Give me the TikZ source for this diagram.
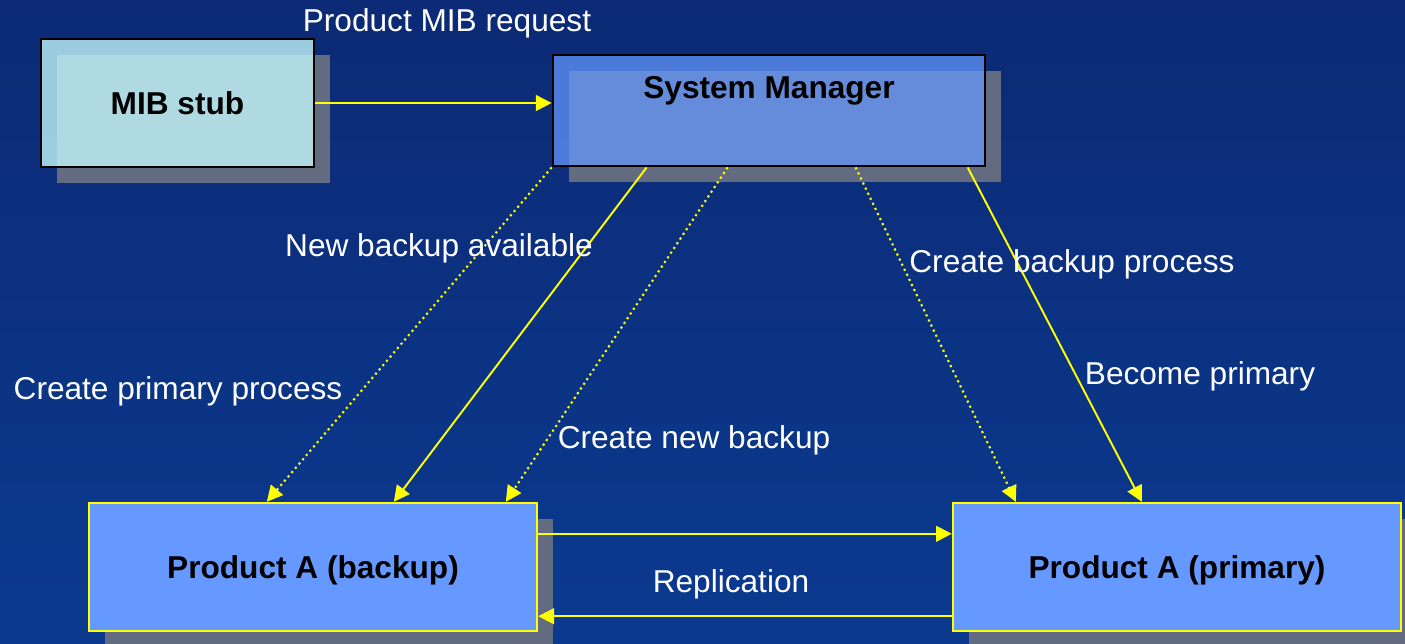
\documentclass[tikz,border=0pt]{standalone}
\usepackage{fontspec}
\setmainfont{Liberation Sans}
\usepackage{xcolor}
\usepackage{tikz}
\usetikzlibrary{arrows.meta,calc,shadows}
\definecolor{slidetop}{RGB}{12, 42, 117}
\definecolor{slidebottom}{RGB}{11, 58, 143}
\definecolor{stubfill}{RGB}{197, 250, 253}
\definecolor{boxfill}{RGB}{102, 153, 255}
\definecolor{shadowgrey}{RGB}{99, 107, 128}
\definecolor{linkyellow}{RGB}{255, 255, 0}

\begin{document}
\begin{tikzpicture}[x=0.02cm,y=-0.02cm,
  every node/.style={font=\fontsize{18}{22}\selectfont, text height=16.5pt, text depth=3.8pt},
  boxshadow/.style={drop shadow={shadow xshift=0.32cm, shadow yshift=-0.32cm, fill=shadowgrey, opacity=1}},
  stubbox/.style={rectangle, draw=black, line width=1.6pt, fill=stubfill, fill opacity=0.78, text opacity=1,
    minimum width=5.46cm, minimum height=2.56cm, font=\fontsize{18}{22}\selectfont\bfseries, boxshadow},
  mgrbox/.style={rectangle, draw=black, line width=1.6pt, fill=boxfill, fill opacity=0.72, text opacity=1,
    minimum width=8.64cm, minimum height=2.22cm, boxshadow},
  prodbox/.style={rectangle, draw=linkyellow, line width=1.4pt, fill=boxfill,
    minimum width=8.96cm, minimum height=2.56cm, font=\fontsize{18}{22}\selectfont\bfseries, boxshadow},
  note/.style={text=white},
  link/.style={draw=linkyellow, line width=1.1pt, -{Triangle[length=9pt,width=9pt]}},
  dotlink/.style={link, line width=1.2pt, dotted}]
% Slide background
\useasboundingbox (0,0) rectangle (1405,643);
\shade[top color=slidetop, bottom color=slidebottom] (0,0) rectangle (1405,643);
% Boxes
\node[stubbox] (mib) at (177.5,103) {MIB stub};
\node[mgrbox, label={[font=\fontsize{18}{22}\selectfont\bfseries, anchor=north, yshift=-5.5pt]north:System Manager}] (sm) at (769,110.5) {};
\node[prodbox] (bk) at (313,567) {Product A (backup)};
\node[prodbox] (pr) at (1177,567) {Product A (primary)};
% Request from the stub
\draw[link] (mib.east) -- (mib.east -| sm.west);
\node[note] (req) at (447,20) {Product MIB request};
% Manager to the two products
\draw[dotlink] (sm.south west) -- ($(bk.north west)+(179,0)$);
\draw[link] ($(sm.south west)+(95,0)$) -- ($(bk.north west)+(306,0)$);
\draw[dotlink] ($(sm.south west)+(176,0)$) -- ($(bk.north west)+(418,0)$);
\draw[dotlink] ($(sm.south west)+(304,0)$) -- ($(pr.north west)+(64,0)$);
\draw[link] ($(sm.south west)+(416,0)$) -- ($(pr.north west)+(190,0)$);
\node[note] (avail) at (439,245) {New backup available};
\node[note] (cprim) at (178,388) {Create primary process};
\node[note] (cnew) at (694,437) {Create new backup};
\node[note] (cback) at (1072,261) {Create backup process};
\node[note] (become) at (1200,373) {Become primary};
% Replication
\draw[link] ($(bk.north east)+(0,32)$) -- ($(pr.north west)+(0,32)$);
\draw[link] ($(pr.south west)+(0,-16)$) -- ($(bk.south east)+(0,-16)$);
\node[note] (repl) at (731,581) {Replication};
\end{tikzpicture}
\end{document}
